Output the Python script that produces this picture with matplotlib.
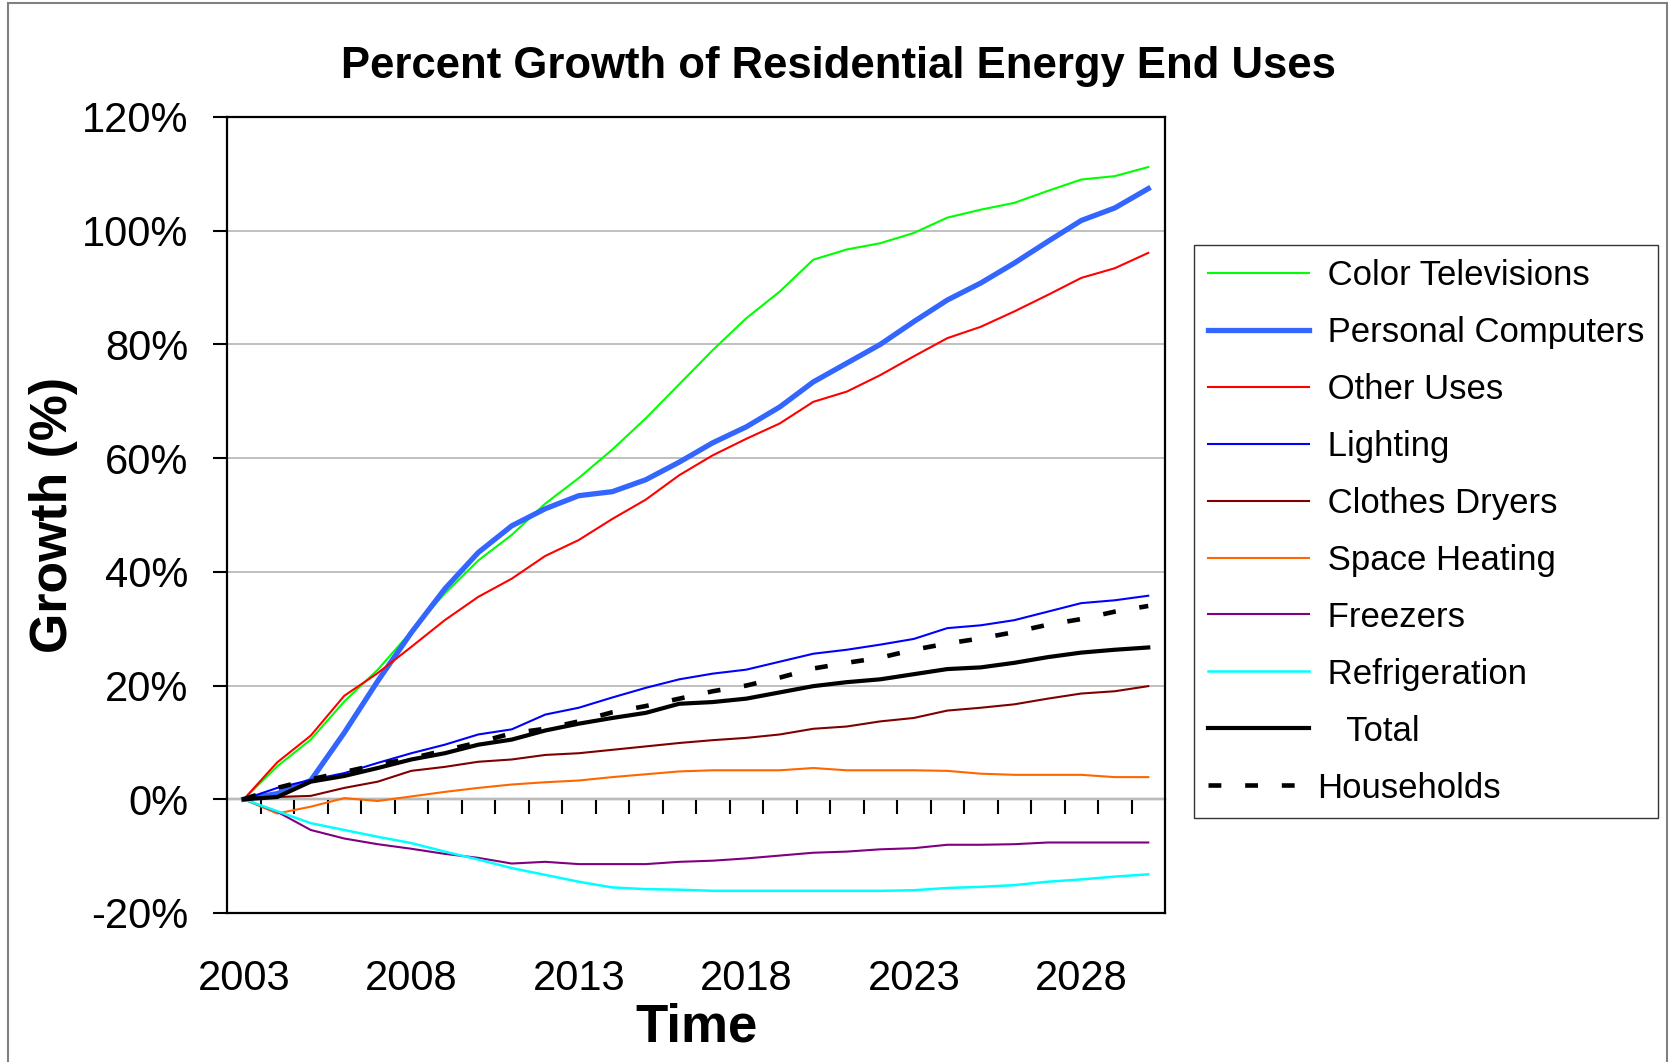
import numpy as np
import matplotlib
matplotlib.use("Agg")
import matplotlib.pyplot as plt
from matplotlib.patches import Rectangle

plt.rcParams["font.family"] = ["Liberation Sans", "DejaVu Sans"]

# Percent growth relative to 2003
years = list(range(2003, 2031))
color_tv = [0, 5.8, 10.5, 17.2, 22.8, 29.5, 36.2, 42.0, 46.5, 52.0, 56.5, 61.5, 67.0, 73.0,
            79.0, 84.6, 89.3, 94.9, 96.7, 97.8, 99.6, 102.3, 103.7, 104.9, 107.0, 109.0, 109.6, 111.2]
personal_computers = [0, 1.0, 3.3, 11.7, 20.8, 29.3, 37.0, 43.4, 48.1, 51.1, 53.4, 54.1, 56.2, 59.3,
                      62.7, 65.5, 69.0, 73.4, 76.7, 80.0, 84.0, 87.8, 90.8, 94.3, 98.1, 101.8, 104.0, 107.4]
other_uses = [0, 6.5, 11.2, 18.2, 22.2, 26.8, 31.5, 35.6, 38.8, 42.8, 45.6, 49.3, 52.7, 57.0,
              60.5, 63.4, 66.1, 69.9, 71.7, 74.6, 77.9, 81.1, 83.1, 85.8, 88.7, 91.7, 93.4, 96.1]
lighting = [0, 2.0, 3.4, 4.6, 6.4, 8.1, 9.6, 11.4, 12.3, 14.9, 16.1, 17.9, 19.6, 21.1,
            22.1, 22.8, 24.2, 25.6, 26.3, 27.2, 28.2, 30.1, 30.6, 31.5, 33.0, 34.5, 35.0, 35.8]
clothes_dryers = [0, 0.4, 0.6, 2.0, 3.1, 5.0, 5.7, 6.6, 7.0, 7.8, 8.1, 8.7, 9.3, 9.9,
                  10.4, 10.8, 11.4, 12.4, 12.8, 13.7, 14.3, 15.6, 16.1, 16.7, 17.7, 18.6, 19.0, 19.9]
space_heating = [0, -2.5, -1.3, 0.2, -0.3, 0.5, 1.3, 2.0, 2.6, 3.0, 3.3, 3.9, 4.4, 4.9,
                 5.1, 5.1, 5.1, 5.5, 5.1, 5.1, 5.1, 5.0, 4.5, 4.3, 4.3, 4.3, 3.9, 3.9]
freezers = [0, -2.2, -5.4, -6.9, -7.9, -8.7, -9.6, -10.3, -11.3, -11.0, -11.4, -11.4, -11.4, -11.0,
            -10.8, -10.4, -9.9, -9.4, -9.2, -8.8, -8.6, -8.0, -8.0, -7.9, -7.6, -7.6, -7.6, -7.6]
refrigeration = [0, -2.1, -4.2, -5.4, -6.6, -7.7, -9.2, -10.6, -12.1, -13.3, -14.5, -15.5, -15.8, -15.9,
                 -16.1, -16.1, -16.1, -16.1, -16.1, -16.1, -16.0, -15.6, -15.4, -15.1, -14.5, -14.1, -13.6, -13.2]
total = [0, 0.4, 3.1, 4.1, 5.5, 7.0, 8.1, 9.6, 10.5, 12.1, 13.3, 14.3, 15.2, 16.8,
         17.1, 17.7, 18.8, 19.9, 20.6, 21.1, 22.0, 22.9, 23.2, 24.0, 25.0, 25.8, 26.3, 26.7]
households = [0, 2.0, 3.5, 4.8, 6.1, 7.2, 8.6, 10.0, 11.6, 12.4, 13.7, 15.3, 16.4, 17.7,
              19.0, 20.0, 21.4, 23.0, 24.0, 24.9, 26.3, 27.4, 28.3, 29.4, 30.7, 31.7, 33.0, 34.0]

y_ticks = [-20, 0, 20, 40, 60, 80, 100, 120]
y_tick_labels = ["-20%", "0%", "20%", "40%", "60%", "80%", "100%", "120%"]
x_label_years = years[::5]

fig = plt.figure(figsize=(16.7, 10.62), dpi=100)
ax = fig.add_axes([227 / 1670, 1 - 913 / 1062, 938 / 1670, 796 / 1062])

ax.plot(years, color_tv, color="#00FF00", lw=1.5, label=" Color Televisions")
ax.plot(years, personal_computers, color="#3366FF", lw=3.8, label=" Personal Computers")
ax.plot(years, other_uses, color="#FF0000", lw=1.5, label=" Other Uses")
ax.plot(years, lighting, color="#0000FF", lw=1.5, label=" Lighting")
ax.plot(years, clothes_dryers, color="#800000", lw=1.5, label=" Clothes Dryers")
ax.plot(years, space_heating, color="#FF6600", lw=1.5, label=" Space Heating")
ax.plot(years, freezers, color="#800080", lw=1.5, label=" Freezers")
ax.plot(years, refrigeration, color="#00FFFF", lw=1.8, label=" Refrigeration")
ax.plot(years, total, color="black", lw=3.0, label="   Total")
ax.plot(years, households, color="black", lw=3.3, ls=(0, (2.8, 5.2)), label="Households")

ax.set_xlim(years[0] - 0.5, years[-1] + 0.5)
ax.set_ylim(y_ticks[0], y_ticks[-1])
ax.set_yticks(y_ticks)
ax.set_yticklabels(y_tick_labels)
ax.yaxis.grid(True, color="#c0c0c0", lw=1.4)
ax.set_axisbelow(True)
ax.tick_params(axis="y", direction="out", length=10, width=1.5, pad=18, labelsize=30)

ax.set_xticks(x_label_years)
ax.set_xticklabels([str(y) for y in x_label_years])
ax.tick_params(axis="x", length=0, pad=33, labelsize=30)

for side in ["left", "right", "top", "bottom"]:
    ax.spines[side].set_linewidth(1.6)
    ax.spines[side].set_color("black")

# category axis crossing at 0% with ticks between the years
zero_pos = (0 - y_ticks[0]) / (y_ticks[-1] - y_ticks[0])
cat_axis = ax.secondary_xaxis(zero_pos)
cat_axis.set_xticks(np.array(years[:-1]) + 0.5)
cat_axis.tick_params(axis="x", direction="out", length=11, width=1.5, labelbottom=False, labeltop=False)
cat_axis.spines["bottom"].set_linewidth(1.6)
cat_axis.spines["bottom"].set_color("#222222")

fig.text(838 / 1670, 1 - 78 / 1062, "Percent Growth of Residential Energy End Uses",
         ha="center", va="baseline", fontsize=31.4, fontweight="bold")
fig.text(53 / 1670, 1 - 515 / 1062, "Growth (%)", rotation=90, ha="center", va="center",
         fontsize=37.3, fontweight="bold")
fig.text(696 / 1670, 1 - 1042 / 1062, "Time", ha="center", va="baseline",
         fontsize=38, fontweight="bold")

leg = fig.legend(loc="upper left", bbox_to_anchor=(1194 / 1670, 1 - 245 / 1062), fontsize=25,
                 frameon=True, fancybox=False, edgecolor="black", borderpad=0.4,
                 handlelength=2.9, handletextpad=0.26, labelspacing=0.69, borderaxespad=0)
leg.get_frame().set_linewidth(1.0)

# outer frame of the chart area, open at the bottom edge
fig.patches.append(Rectangle((8 / 1670, -0.02), 1659 / 1670, 1.02 - 3 / 1062, transform=fig.transFigure,
                             fill=False, edgecolor="#808080", lw=1.5))

fig.savefig("out.png", dpi=100)
